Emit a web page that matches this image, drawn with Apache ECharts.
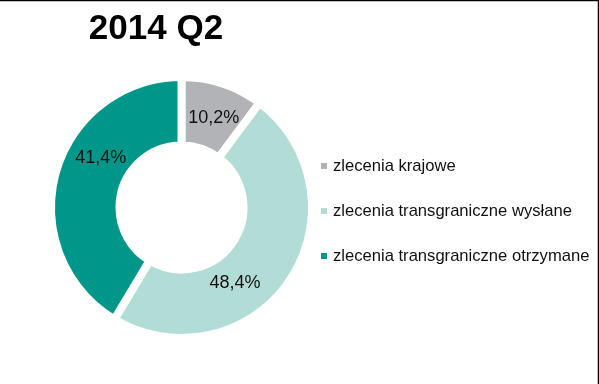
<!DOCTYPE html>
<html>
<head>
<meta charset="utf-8">
<script src="https://cdn.jsdelivr.net/npm/echarts@6/dist/echarts.min.js"></script>
<style>
html,body{margin:0;padding:0;background:#fff;}
#c{width:599px;height:384px;}
</style>
</head>
<body>
<div id="c"></div>
<script>
const title = '2014 Q2';
const categories = ['zlecenia krajowe', 'zlecenia transgraniczne wysłane', 'zlecenia transgraniczne otrzymane'];
const values = [10.2, 48.4, 41.4];
const labels = ['10,2%', '48,4%', '41,4%'];

const colors = ['#B1B3B6', '#B2DDD7', '#00968A'];
const labelOffsets = [[1, 5], [-29, 20], [15, -23]];
const FONT = 'Arial, "Liberation Sans", sans-serif';

const chart = echarts.init(document.getElementById('c'));
chart.setOption({
  animation: false,
  title: {
    text: title,
    left: 151,
    textAlign: 'center',
    top: 7,
    textStyle: { fontFamily: FONT, fontSize: 35, fontWeight: 'bold', color: '#000' }
  },
  legend: {
    orient: 'vertical',
    left: 319,
    top: 156,
    padding: 0,
    itemWidth: 8,
    itemHeight: 8,
    itemGap: 25,
    icon: 'rect',
    textStyle: { fontFamily: FONT, fontSize: 16.6, color: '#111', lineHeight: 20 },
    data: categories
  },
  graphic: [
    { type: 'line', shape: { x1: 0, y1: 0.5, x2: 598.5, y2: 0.5 }, style: { stroke: '#000', lineWidth: 1.5 } },
    { type: 'line', shape: { x1: 598.5, y1: 0, x2: 598.5, y2: 384 }, style: { stroke: '#000', lineWidth: 1.5 } }
  ],
  series: [{
    type: 'pie',
    center: [181.5, 207.5],
    radius: [62, 130.5],
    startAngle: 90,
    clockwise: true,
    avoidLabelOverlap: false,
    itemStyle: { borderColor: '#fff', borderWidth: 8 },
    label: {
      show: true,
      position: 'inside',
      fontFamily: FONT,
      fontSize: 18,
      color: '#111'
    },
    labelLine: { show: false },
    emphasis: { disabled: true },
    data: categories.map((n, i) => ({
      name: n,
      value: values[i],
      itemStyle: { color: colors[i] },
      label: { formatter: labels[i], offset: labelOffsets[i] }
    }))
  }]
});
</script>
</body>
</html>
